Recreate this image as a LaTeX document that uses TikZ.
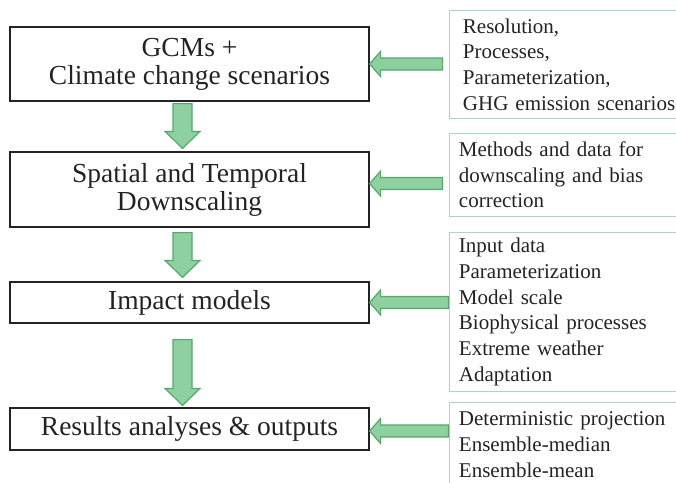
\documentclass[tikz,border=0pt]{standalone}
\usepackage{fontspec}
\setmainfont{Liberation Serif}
\usetikzlibrary{calc}
\definecolor{arrowfill}{RGB}{143,208,160}
\definecolor{arrowline}{RGB}{84,168,108}
\definecolor{noteline}{RGB}{165,218,188}
\definecolor{inkgray}{RGB}{35,35,35}
\tikzset{
  flowbox/.style={draw=inkgray, line width=1.2pt, minimum width=359pt, inner sep=0pt,
    align=center, text=inkgray, font=\fontsize{27.5}{28}\selectfont},
  notebox/.style={draw=noteline, line width=0.9pt, anchor=north west, text width=250pt,
    inner xsep=10pt, inner ysep=0pt, align=left, text=inkgray, font=\fontsize{21}{25.7}\selectfont},
  fatarrow/.style={draw=arrowline, fill=arrowfill, line width=1.2pt, line join=miter}
}
\newcommand{\downblock}[2]{%
  \draw[fatarrow] let \p1=(#1), \p2=(#2) in
    (\x1-9.5pt,\y1) -- (\x1+9.5pt,\y1) -- (\x1+9.5pt,\y2+17pt) -- (\x1+17.5pt,\y2+17pt)
    -- (\x1,\y2) -- (\x1-17.5pt,\y2+17pt) -- (\x1-9.5pt,\y2+17pt) -- cycle;}
\newcommand{\leftblock}[2]{%
  \draw[fatarrow] let \p1=(#1), \p2=(#2) in
    (\x1,\y2+6pt) -- (\x2+11pt,\y2+6pt) -- (\x2+11pt,\y2+12.5pt) -- (\x2,\y2)
    -- (\x2+11pt,\y2-12.5pt) -- (\x2+11pt,\y2-6pt) -- (\x1,\y2-6pt) -- cycle;}
\begin{document}
\begin{tikzpicture}[x=1pt,y=-1pt]
  \useasboundingbox (0,0) rectangle (676,482);
  % main chain
  \node[flowbox, minimum height=74pt] (gcm) at (189.5,64) {GCMs +\\Climate change scenarios};
  \node[flowbox, minimum height=75pt] (dscale) at (189.5,189.5) {Spatial and Temporal\\Downscaling};
  \node[flowbox, minimum height=41pt] (impact) at (189.5,302.5) {Impact models};
  \node[flowbox, minimum height=42pt] (result) at (189.5,429) {Results analyses \& outputs};
  % uncertainty notes
  \node[notebox, inner xsep=14pt, text width=240pt, minimum height=108pt] (gcmnote) at (448.5,10)
    {Resolution,\\Processes,\\Parameterization,\\GHG emission scenarios};
  \node[notebox, minimum height=83pt] (dsnote) at (448.5,133)
    {Methods and data for\\downscaling and bias\\correction};
  \node[notebox, minimum height=159pt] (impnote) at (448.5,232)
    {Input data\\Parameterization\\Model scale\\Biophysical processes\\Extreme weather\\Adaptation};
  \node[notebox, minimum height=84pt] (resnote) at (448.5,402)
    {Deterministic projection\\Ensemble-median\\Ensemble-mean};
  % arrows
  \downblock{$(gcm.south)+(-7,2)$}{$(dscale.north)+(-7,-3)$}
  \downblock{$(dscale.south)+(-7,5)$}{$(impact.north)+(-7,-4)$}
  \downblock{$(impact.south)+(-7,16)$}{$(result.north)+(-7,-2)$}
  \leftblock{$(gcmnote.west)+(-6,0)$}{gcm.east}
  \leftblock{$(dsnote.west)+(-6,0)$}{$(dscale.east)+(0,-6)$}
  \leftblock{impnote.west}{impact.east}
  \leftblock{resnote.west}{$(result.east)+(0,2)$}
\end{tikzpicture}
\end{document}
